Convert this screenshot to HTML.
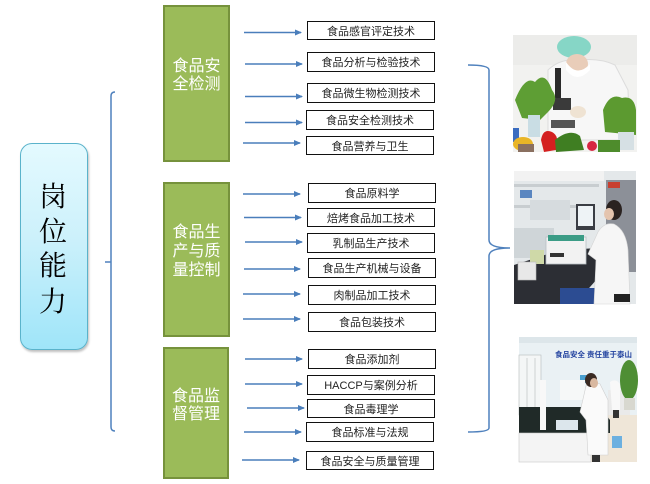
<!DOCTYPE html>
<html><head><meta charset="utf-8">
<style>
html,body{margin:0;padding:0;background:#fff;}
body{width:650px;height:484px;position:relative;overflow:hidden;font-family:"Liberation Sans","Noto Sans CJK SC",sans-serif;}
.center{position:absolute;left:20px;top:143px;width:66px;height:205px;border:1px solid #5ab3cb;border-radius:12px;background:linear-gradient(#e4faff,#cdf1fb 45%,#9fe5f9);box-shadow:1px 2px 2px rgba(0,0,0,0.25);}
.center div{position:absolute;left:0;width:64px;text-align:center;font-family:"Liberation Serif","Noto Serif CJK SC",serif;font-size:28px;line-height:30px;color:#000;}
.g{position:absolute;background:#9bbb59;border:2px solid #76923c;color:#fff;font-family:"Liberation Sans","Noto Sans CJK SC",sans-serif;font-size:16px;line-height:18px;display:flex;align-items:center;justify-content:center;text-align:center;box-sizing:border-box;}
.l{position:absolute;border:1px solid #111;box-sizing:border-box;font-family:"Liberation Sans","Noto Sans CJK SC",sans-serif;font-size:11px;color:#222;display:flex;align-items:center;justify-content:center;white-space:nowrap;background:#fff;}
svg{position:absolute;left:0;top:0;}
</style></head><body>

<div class="center">
<div style="top:39px">岗</div>
<div style="top:74px">位</div>
<div style="top:108px">能</div>
<div style="top:144px">力</div>
</div>

<div class="g" style="left:163px;top:5px;width:67px;height:157px;padding-bottom:16px;">食品安<br>全检测</div>
<div class="g" style="left:163px;top:182px;width:67px;height:155px;padding-bottom:16px;line-height:19px;">食品生<br>产与质<br>量控制</div>
<div class="g" style="left:163px;top:347px;width:66px;height:132px;padding-bottom:14px;">食品监<br>督管理</div>

<div class="l" style="left:307px;top:21px;width:128px;height:19px;">食品感官评定技术</div>
<div class="l" style="left:307px;top:52px;width:128px;height:20px;">食品分析与检验技术</div>
<div class="l" style="left:307px;top:83px;width:128px;height:20px;">食品微生物检测技术</div>
<div class="l" style="left:306px;top:110px;width:128px;height:20px;">食品安全检测技术</div>
<div class="l" style="left:306px;top:136px;width:128px;height:19px;">食品营养与卫生</div>
<div class="l" style="left:308px;top:183px;width:128px;height:20px;">食品原料学</div>
<div class="l" style="left:307px;top:208px;width:128px;height:19px;">焙烤食品加工技术</div>
<div class="l" style="left:307px;top:233px;width:128px;height:20px;">乳制品生产技术</div>
<div class="l" style="left:308px;top:258px;width:128px;height:20px;">食品生产机械与设备</div>
<div class="l" style="left:308px;top:285px;width:128px;height:20px;">肉制品加工技术</div>
<div class="l" style="left:308px;top:312px;width:128px;height:20px;">食品包装技术</div>
<div class="l" style="left:308px;top:349px;width:128px;height:20px;">食品添加剂</div>
<div class="l" style="left:307px;top:375px;width:128px;height:20px;">HACCP与案例分析</div>
<div class="l" style="left:307px;top:399px;width:128px;height:19px;">食品毒理学</div>
<div class="l" style="left:306px;top:422px;width:128px;height:20px;">食品标准与法规</div>
<div class="l" style="left:306px;top:451px;width:128px;height:19px;">食品安全与质量管理</div>

<svg width="650" height="484" viewBox="0 0 650 484">
<defs>
<marker id="ah" markerWidth="7" markerHeight="6" refX="6" refY="3" orient="auto" markerUnits="userSpaceOnUse">
<path d="M0,0 L7,3 L0,6 Z" fill="#4a7ebb"/>
</marker>
</defs>
<g stroke="#4f81bd" stroke-width="1.5" fill="none">
<path d="M115,92 Q111,92 111,96 V427 Q111,431 115,431"/>
<path d="M105,262 H111"/>
<path d="M468,65 Q489,65 489,70 V240 Q489,248 510,248 Q489,248 489,256 V428 Q489,432 468,432"/>
</g>
<g stroke="#4a7ebb" stroke-width="1.5" marker-end="url(#ah)">
<line x1="244" y1="32.5" x2="301" y2="32.5"/>
<line x1="245" y1="64" x2="302" y2="64"/>
<line x1="245" y1="96.5" x2="302" y2="96.5"/>
<line x1="245" y1="122.5" x2="302" y2="122.5"/>
<line x1="243" y1="143" x2="300" y2="143"/>
<line x1="243" y1="194" x2="300" y2="194"/>
<line x1="244" y1="217.5" x2="301" y2="217.5"/>
<line x1="245" y1="242" x2="302" y2="242"/>
<line x1="244" y1="269" x2="300" y2="269"/>
<line x1="243" y1="294" x2="300" y2="294"/>
<line x1="243" y1="319" x2="300" y2="319"/>
<line x1="245" y1="359" x2="302" y2="359"/>
<line x1="245" y1="384" x2="302" y2="384"/>
<line x1="247" y1="408" x2="304" y2="408"/>
<line x1="244" y1="432" x2="301" y2="432"/>
<line x1="242" y1="460" x2="299" y2="460"/>
</g>

<!-- Photo 1 -->
<g>
<rect x="513" y="35" width="124" height="117" fill="#f2f2f0"/>
<rect x="513" y="35" width="124" height="30" fill="#ececea"/>
<path d="M548,70 Q560,58 580,60 Q600,58 615,65 L628,90 L630,140 L548,140 Z" fill="#f7f7f7" stroke="#dcdcdc" stroke-width="1"/>
<ellipse cx="574" cy="47" rx="17" ry="11" fill="#86d6c6"/>
<ellipse cx="577" cy="64" rx="11" ry="10" fill="#e9cdb9"/>
<path d="M566,62 Q577,78 590,64 L590,70 Q577,84 566,70 Z" fill="#ffffff"/>
<rect x="555" y="68" width="6" height="40" fill="#2a2a2a"/>
<rect x="553" y="98" width="18" height="12" fill="#3a3a3a"/>
<rect x="551" y="120" width="24" height="8" fill="#555"/>
<ellipse cx="578" cy="112" rx="8" ry="6" fill="#efe3d3"/>
<path d="M515,100 Q525,75 535,82 Q545,70 552,90 Q560,100 548,112 L540,120 L522,118 Z" fill="#5e9e34"/>
<rect x="528" y="115" width="12" height="22" fill="#c9dde4"/>
<path d="M603,110 Q610,92 622,98 Q634,95 636,110 L636,135 L605,132 Z" fill="#5c9a30"/>
<rect x="618" y="132" width="16" height="18" fill="#d6e0e4"/>
<rect x="513" y="128" width="6" height="14" fill="#3a6cc0"/>
<ellipse cx="523" cy="144" rx="10" ry="7" fill="#e9b526"/>
<path d="M541,140 Q543,128 552,132 Q560,136 556,150 L544,152 Z" fill="#d42020"/>
<path d="M555,140 Q570,128 580,136 L584,150 L556,152 Z" fill="#3f7e22"/>
<circle cx="592" cy="146" r="5" fill="#d62640"/>
<rect x="598" y="140" width="22" height="12" fill="#4e8c2c"/>
<rect x="518" y="144" width="16" height="8" fill="#8a7060"/>
</g>

<!-- Photo 2 -->
<g>
<rect x="514" y="171" width="122" height="133" fill="#e4e8ea"/>
<rect x="514" y="171" width="90" height="10" fill="#f2f2f2"/>
<rect x="514" y="184" width="85" height="3" fill="#c8cdd0"/>
<rect x="514" y="205" width="75" height="3" fill="#c8cdd0"/>
<rect x="520" y="190" width="12" height="8" fill="#5a86c0"/>
<rect x="530" y="200" width="40" height="20" fill="#d6dbde"/>
<rect x="606" y="180" width="30" height="92" fill="#8c9098"/>
<rect x="608" y="182" width="12" height="6" fill="#c84030"/>
<rect x="514" y="228" width="40" height="30" fill="#cfd5d8"/>
<path d="M514,304 L514,265 L560,250 L600,248 L605,270 L575,304 Z" fill="#2c2e34"/>
<rect x="560" y="288" width="35" height="16" fill="#2c4c92"/>
<rect x="546" y="237" width="40" height="27" fill="#f2f2f2" stroke="#b8c0c4" stroke-width="0.8"/>
<rect x="548" y="235" width="36" height="6" fill="#3b9c86"/>
<rect x="550" y="253" width="14" height="4" fill="#333"/>
<rect x="576" y="204" width="19" height="26" fill="#3a3d44"/>
<rect x="578" y="206" width="15" height="20" fill="#eef3f6"/>
<rect x="530" y="250" width="14" height="14" fill="#cfd9a8"/>
<rect x="518" y="262" width="18" height="18" fill="#e8e8e8" stroke="#bbb" stroke-width="0.6"/>
<path d="M598,232 Q604,222 614,224 Q626,230 628,250 L630,304 L594,304 L596,260 L588,254 Z" fill="#f6f6f6" stroke="#d5d5d5" stroke-width="0.6"/>
<ellipse cx="614" cy="210" rx="8" ry="10" fill="#2a2220"/>
<ellipse cx="609" cy="214" rx="5" ry="6" fill="#e4c4ae"/>
<rect x="614" y="294" width="16" height="8" fill="#222"/>
</g>

<!-- Photo 3 -->
<g>
<rect x="519" y="337" width="118" height="125" fill="#eaf1f4"/>
<rect x="519" y="337" width="118" height="6" fill="#dde6ea"/>
<text x="555" y="357" font-family="Liberation Sans,Noto Sans CJK SC,sans-serif" font-size="7.5" font-weight="bold" fill="#2444a0">食品安全</text>
<text x="587" y="357" font-family="Liberation Sans,Noto Sans CJK SC,sans-serif" font-size="7.5" font-weight="bold" fill="#2444a0">责任重于泰山</text>
<rect x="519" y="355" width="22" height="60" fill="#f4f6f6" stroke="#b4bcbc" stroke-width="0.6"/>
<line x1="527" y1="358" x2="527" y2="412" stroke="#b4bcbc" stroke-width="0.6"/>
<line x1="535" y1="358" x2="535" y2="412" stroke="#b4bcbc" stroke-width="0.6"/>
<rect x="580" y="375" width="8" height="8" fill="#4aa0d0"/>
<rect x="560" y="380" width="25" height="20" fill="#f6f8f8"/>
<rect x="608" y="390" width="22" height="25" fill="#eaeaea"/>
<rect x="580" y="415" width="57" height="47" fill="#efe6d8"/>
<path d="M519,407 L600,407 L610,420 L610,433 L519,433 Z" fill="#202a28"/>
<rect x="519" y="433" width="72" height="29" fill="#f4f4f4" stroke="#c8c8c8" stroke-width="0.6"/>
<rect x="540" y="380" width="6" height="50" fill="#f8f8f8"/>
<rect x="556" y="420" width="22" height="10" fill="#dce6ec"/>
<path d="M586,386 Q592,380 600,384 L608,400 L608,455 L588,455 L586,420 L580,412 Z" fill="#fafafa" stroke="#d0d0d0" stroke-width="0.6"/>
<ellipse cx="591" cy="380" rx="6" ry="7" fill="#3a2a22"/>
<ellipse cx="594" cy="383" rx="4" ry="5" fill="#d9b8a0"/>
<rect x="592" y="455" width="8" height="7" fill="#333"/>
<rect x="612" y="436" width="10" height="12" fill="#6cb0e0"/>
<path d="M610,382 Q616,378 620,384 L620,410 L612,410 Z" fill="#f8f8f8"/>
<rect x="613" y="410" width="6" height="8" fill="#333"/>
<ellipse cx="629" cy="380" rx="9" ry="20" fill="#4e8e34"/>
<rect x="624" y="398" width="11" height="12" fill="#d8d8d0"/>
</g>
</svg>
</body></html>
